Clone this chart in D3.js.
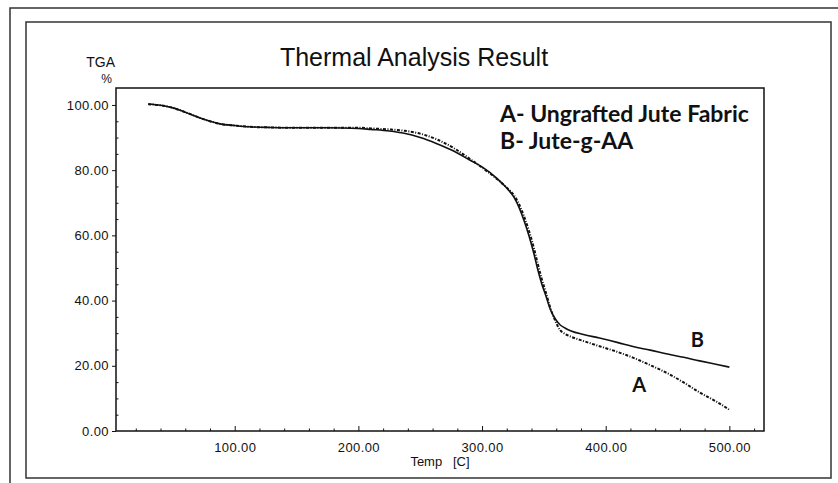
<!DOCTYPE html>
<html>
<head>
<meta charset="utf-8">
<script src="https://cdn.jsdelivr.net/npm/d3@7"></script>
<style>
  body { margin: 0; background: #fff; }
  svg { display: block; }
  text { font-family: "Liberation Sans", Arial, sans-serif; fill: #111; }
</style>
</head>
<body>
<script>
//temperatures (C)
var temps = [30, 40, 50, 60, 72, 80, 88, 100, 112, 130, 150, 175, 200, 210, 225, 237, 250, 263, 277, 290,
    300, 312, 320, 326, 330, 334, 338, 342, 345, 348, 352, 355, 359, 363, 367, 372, 382, 395, 410, 422,
    436, 450, 463, 476, 490, 500];

//A - ungrafted jute fabric (dotted)
var tgaA = [100.2, 99.9, 99.1, 97.8, 96.0, 95.0, 94.2, 93.7, 93.3, 93.1, 93.0, 93.0, 93.0, 92.8, 92.5, 92.1, 91.2, 89.5, 86.8, 83.5,
    80.8, 77.3, 74.6, 72.2, 69.5, 65.8, 61.3, 56.0, 51.4, 47.0, 42.0, 38.0, 34.0, 31.0, 29.8, 28.9, 27.6, 26.0, 24.2, 22.5,
    20.2, 17.7, 14.9, 11.8, 8.9, 6.5];

//B - jute-g-AA (solid)
var tgaB = [100.3, 99.9, 99.1, 97.8, 96.0, 95.0, 94.2, 93.7, 93.3, 93.1, 93.0, 93.0, 92.8, 92.5, 92.0, 91.3, 90.0, 88.2, 85.9, 83.1,
    81.0, 77.5, 74.5, 71.6, 68.5, 64.5, 59.8, 54.3, 49.6, 45.5, 41.0, 37.5, 34.5, 32.6, 31.6, 30.7, 29.6, 28.5, 27.1, 25.9,
    24.8, 23.6, 22.6, 21.5, 20.4, 19.6];

var xTicks = [100, 200, 300, 400, 500];
var yTicks = [0, 20, 40, 60, 80, 100];

var legendLines = ["A- Ungrafted Jute Fabric", "B- Jute-g-AA"];

//curve tags: [label, temp, tga]
var curveTags = [["B", 474, 25.8], ["A", 427, 12.0]];

window.onload = drawChart();

function drawChart(){

    var width = 838,
        height = 483;

    var plot = {left: 116, right: 764, top: 88, bottom: 431};

    var svg = d3.select("body")
        .append("svg")
        .attr("width", width)
        .attr("height", height);

    //outer frame (only top and left edges show in the crop)
    svg.append("path")
        .attr("d", "M10,483 L10,8 L838,8")
        .attr("fill", "none")
        .attr("stroke", "#333")
        .attr("stroke-width", 1.5);

    //inner frame
    svg.append("rect")
        .attr("x", 26).attr("y", 22)
        .attr("width", 831 - 26).attr("height", 478 - 22)
        .attr("fill", "none")
        .attr("stroke", "#333")
        .attr("stroke-width", 1.5);

    var x = d3.scaleLinear()
        .domain([4, 528])
        .range([plot.left, plot.right]);

    var y = d3.scaleLinear()
        .domain([0, 105.2])
        .range([plot.bottom, plot.top]);

    //plot box
    svg.append("rect")
        .attr("x", plot.left).attr("y", plot.top)
        .attr("width", plot.right - plot.left)
        .attr("height", plot.bottom - plot.top)
        .attr("fill", "none")
        .attr("stroke", "#111")
        .attr("stroke-width", 1.5);

    //x axis: major ticks pointing up, small minor ticks
    var xAxis = svg.append("g")
        .attr("transform", "translate(0," + plot.bottom + ")")
        .call(d3.axisBottom(x).tickValues(xTicks).tickSize(-5).tickPadding(12)
            .tickFormat(d3.format(".2f")));
    xAxis.select(".domain").remove();
    xAxis.selectAll("text").style("font-size", "13px").style("letter-spacing", "0.4px");

    var xMinor = svg.append("g")
        .attr("transform", "translate(0," + plot.bottom + ")")
        .call(d3.axisBottom(x).tickValues(d3.range(20, 528, 20).filter(function(d){ return d % 100 != 0; }))
            .tickSize(-2.5).tickFormat(""));
    xMinor.select(".domain").remove();

    //y axis: major ticks pointing out, minor ticks inside
    var yAxis = svg.append("g")
        .attr("transform", "translate(" + plot.left + ",0)")
        .call(d3.axisLeft(y).tickValues(yTicks).tickSize(4).tickPadding(3)
            .tickFormat(d3.format(".2f")));
    yAxis.select(".domain").remove();
    yAxis.selectAll("text").style("font-size", "13px").style("letter-spacing", "0.4px");

    var yMinor = svg.append("g")
        .attr("transform", "translate(" + plot.left + ",0)")
        .call(d3.axisLeft(y).tickValues(d3.range(5, 105, 5).filter(function(d){ return d % 20 != 0; }))
            .tickSize(-2.5).tickFormat(""));
    yMinor.select(".domain").remove();

    svg.selectAll(".tick line").attr("stroke", "#111");

    //titles
    svg.append("text")
        .attr("x", 414).attr("y", 66)
        .attr("text-anchor", "middle")
        .style("font-size", "25px")
        .text("Thermal Analysis Result");

    svg.append("text")
        .attr("x", 115).attr("y", 67)
        .attr("text-anchor", "end")
        .style("font-size", "14px")
        .text("TGA");

    svg.append("text")
        .attr("x", 112).attr("y", 83)
        .attr("text-anchor", "end")
        .style("font-size", "12px")
        .text("%");

    svg.append("text")
        .attr("x", (plot.left + plot.right) / 2).attr("y", 466)
        .attr("text-anchor", "middle")
        .style("font-size", "13px")
        .attr("xml:space", "preserve")
        .text("Temp   [C]");

    //curves
    var line = d3.line()
        .x(function(d){ return x(d[0]); })
        .y(function(d){ return y(d[1]); })
        .curve(d3.curveMonotoneX);

    svg.append("path")
        .datum(d3.zip(temps, tgaB))
        .attr("fill", "none")
        .attr("stroke", "#111")
        .attr("stroke-width", 1.6)
        .attr("d", line);

    svg.append("path")
        .datum(d3.zip(temps, tgaA))
        .attr("fill", "none")
        .attr("stroke", "#111")
        .attr("stroke-width", 2)
        .attr("stroke-dasharray", "3,1.5,1,1.5")
        .attr("d", line);

    //curve labels
    svg.selectAll(".tag")
        .data(curveTags)
        .enter()
        .append("text")
        .attr("class", "tag")
        .attr("x", function(d){ return x(d[1]); })
        .attr("y", function(d){ return y(d[2]); })
        .attr("text-anchor", "middle")
        .style("font-family", "Lato, 'Open Sans', sans-serif")
        .style("font-weight", "bold")
        .style("font-size", "20px")
        .text(function(d){ return d[0]; });

    //legend text
    svg.selectAll(".legend")
        .data(legendLines)
        .enter()
        .append("text")
        .attr("class", "legend")
        .attr("x", 500)
        .attr("y", function(d, i){ return 122 + i * 27; })
        .style("font-family", "Lato, 'Open Sans', sans-serif")
        .style("font-weight", "bold")
        .style("font-size", "23px")
        .text(function(d){ return d; });
};
</script>
</body>
</html>
